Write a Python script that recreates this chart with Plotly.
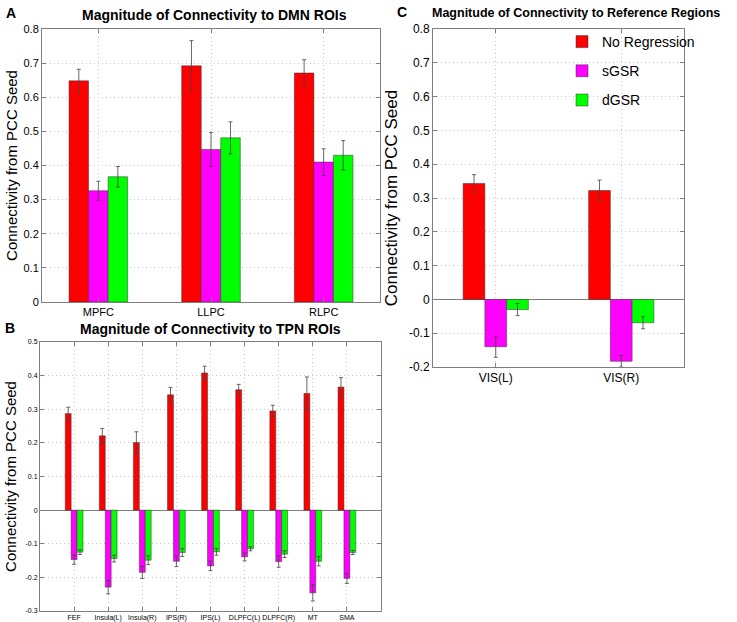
import plotly.graph_objects as go

# panel A - DMN ROIs
dmn_rois = ['MPFC', 'LLPC', 'RLPC']
dmn_noreg = [0.648, 0.692, 0.671]
dmn_noreg_err = [0.034, 0.074, 0.039]
dmn_sgsr = [0.326, 0.447, 0.410]
dmn_sgsr_err = [0.028, 0.050, 0.039]
dmn_dgsr = [0.367, 0.481, 0.430]
dmn_dgsr_err = [0.030, 0.047, 0.043]

# panel B - TPN ROIs
tpn_rois = ['FEF', 'Insula(L)', 'Insula(R)', 'IPS(R)', 'IPS(L)',
            'DLPFC(L)', 'DLPFC(R)', 'MT', 'SMA']
tpn_noreg = [0.287, 0.221, 0.201, 0.343, 0.408, 0.358, 0.295, 0.347, 0.366]
tpn_noreg_err = [0.019, 0.022, 0.032, 0.022, 0.020, 0.016, 0.017, 0.049, 0.028]
tpn_sgsr = [-0.147, -0.229, -0.185, -0.152, -0.166, -0.139, -0.153, -0.246, -0.203]
tpn_sgsr_err = [0.014, 0.020, 0.018, 0.016, 0.014, 0.012, 0.017, 0.024, 0.015]
tpn_dgsr = [-0.125, -0.144, -0.149, -0.126, -0.124, -0.115, -0.131, -0.152, -0.126]
tpn_dgsr_err = [0.007, 0.010, 0.013, 0.012, 0.010, 0.006, 0.010, 0.014, 0.006]

# panel C - reference regions
ref_rois = ['VIS(L)', 'VIS(R)']
ref_noreg = [0.343, 0.322]
ref_noreg_err = [0.026, 0.031]
ref_sgsr = [-0.140, -0.183]
ref_sgsr_err = [0.031, 0.017]
ref_dgsr = [-0.030, -0.069]
ref_dgsr_err = [0.018, 0.018]

series_names = ['No Regression', 'sGSR', 'dGSR']
colors = ['#ff0000', '#ff00ff', '#00ff00']

ticks_a = [0, 0.1, 0.2, 0.3, 0.4, 0.5, 0.6, 0.7, 0.8]
ticks_b = [-0.3, -0.2, -0.1, 0, 0.1, 0.2, 0.3, 0.4, 0.5]
ticks_c = [-0.2, -0.1, 0, 0.1, 0.2, 0.3, 0.4, 0.5, 0.6, 0.7, 0.8]

W, H = 737, 622
FONT = 'Liberation Sans'

fig = go.Figure()

panels = [
    ('x', 'y', dmn_rois, [(dmn_noreg, dmn_noreg_err), (dmn_sgsr, dmn_sgsr_err),
                          (dmn_dgsr, dmn_dgsr_err)], False),
    ('x2', 'y2', tpn_rois, [(tpn_noreg, tpn_noreg_err), (tpn_sgsr, tpn_sgsr_err),
                            (tpn_dgsr, tpn_dgsr_err)], False),
    ('x3', 'y3', ref_rois, [(ref_noreg, ref_noreg_err), (ref_sgsr, ref_sgsr_err),
                            (ref_dgsr, ref_dgsr_err)], True),
]

for xa, ya, cats, series, show in panels:
    for i, (vals, errs) in enumerate(series):
        fig.add_trace(go.Bar(
            x=cats, y=vals, name=series_names[i],
            xaxis=xa, yaxis=ya,
            marker=dict(color=colors[i], line=dict(color='#333333', width=0.5)),
            error_y=dict(type='data', array=errs, color='#444444',
                         thickness=0.8, width=2),
            showlegend=show, legendgroup=series_names[i],
        ))


def tick_text(vals):
    return ['%g' % v for v in vals]


ax_common = dict(showline=True, linecolor='#7f7f7f', linewidth=1, mirror='ticks',
                 ticks='inside', tickcolor='#7f7f7f', ticklen=4, tickangle=0,
                 showgrid=True, gridcolor='#c8c8c8', griddash='1px,3px', gridwidth=1,
                 type='category', automargin=False)
y_common = dict(showline=True, linecolor='#7f7f7f', linewidth=1, mirror='ticks',
                ticks='inside', tickcolor='#7f7f7f', ticklen=4,
                showgrid=True, gridcolor='#c8c8c8', griddash='1px,3px', gridwidth=1,
                zeroline=True, zerolinecolor='#7f7f7f', zerolinewidth=1,
                automargin=False)

fig.update_layout(
    width=W, height=H,
    margin=dict(l=0, r=0, t=0, b=0, autoexpand=False),
    paper_bgcolor='white', plot_bgcolor='white',
    barmode='group', bargroupgap=0, bargap=0.48,
    font=dict(family=FONT, color='black'),
    xaxis=dict(ax_common, domain=[42 / W, 380 / W], range=[-0.5, 2.5],
               tickfont=dict(size=11), anchor='y'),
    yaxis=dict(y_common, domain=[1 - 302 / H, 1 - 29 / H], range=[0, 0.8],
               tickvals=ticks_a, ticktext=tick_text(ticks_a), tickfont=dict(size=11),
               title=dict(text='Connectivity from PCC Seed', font=dict(size=15),
                          standoff=2), anchor='x'),
    xaxis2=dict(ax_common, domain=[40 / W, 381 / W], range=[-1, 9],
                tickfont=dict(size=7), anchor='y2'),
    yaxis2=dict(y_common, domain=[1 - 611 / H, 1 - 342 / H], range=[-0.3, 0.5],
                tickvals=ticks_b, ticktext=tick_text(ticks_b), tickfont=dict(size=7),
                title=dict(text='Connectivity from PCC Seed', font=dict(size=15),
                           standoff=5), anchor='x2'),
    xaxis3=dict(ax_common, domain=[433 / W, 684 / W], range=[-0.5, 1.5],
                tickfont=dict(size=12), anchor='y3'),
    yaxis3=dict(y_common, domain=[1 - 367 / H, 1 - 29 / H], range=[-0.2, 0.8],
                tickvals=ticks_c, ticktext=tick_text(ticks_c), tickfont=dict(size=12),
                title=dict(text='Connectivity from PCC Seed', font=dict(size=17),
                           standoff=6), anchor='x3'),
    legend=dict(x=562 / W, y=1 - 26 / H, xanchor='left', yanchor='top',
                font=dict(size=14), bgcolor='rgba(255,255,255,0)',
                tracegroupgap=8, itemwidth=30),
)

titles = [
    ('Magnitude of Connectivity to DMN ROIs', 214, 15, 14),
    ('Magnitude of Connectivity to TPN ROIs', 211, 329, 14),
    ('Magnitude of Connectivity to Reference Regions', 576, 13, 12.5),
]
for text, x, y, size in titles:
    fig.add_annotation(text='<b>%s</b>' % text, x=x / W, y=1 - y / H,
                       xref='paper', yref='paper', showarrow=False,
                       xanchor='center', yanchor='middle',
                       font=dict(size=size))

for letter, x, y in [('A', 11, 13), ('B', 10, 328), ('C', 402, 12)]:
    fig.add_annotation(text='<b>%s</b>' % letter, x=x / W, y=1 - y / H,
                       xref='paper', yref='paper', showarrow=False,
                       xanchor='center', yanchor='middle', font=dict(size=14))

# drop the default page margin so the figure sits at the window's corner
fig.write_html('out.html', config={'displayModeBar': False},
               post_script="document.body.style.margin='0';")
